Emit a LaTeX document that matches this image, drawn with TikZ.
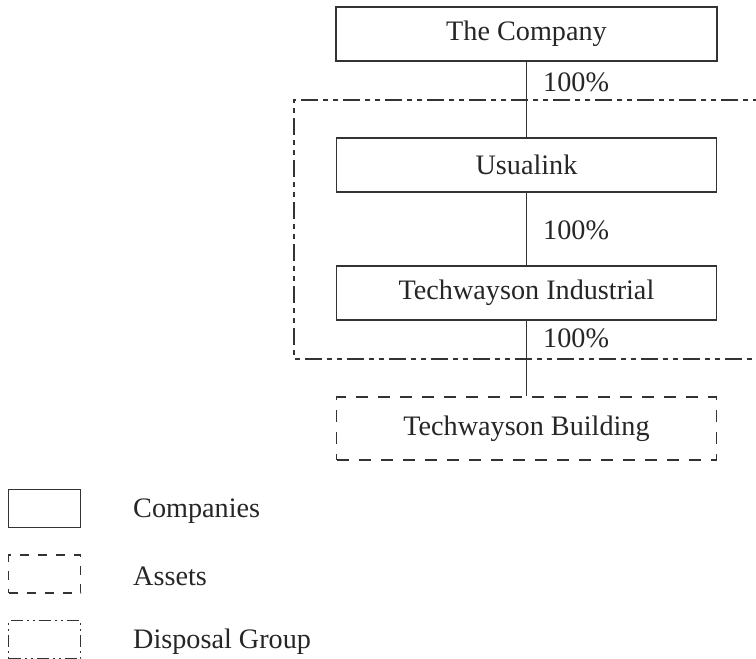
\documentclass[tikz,border=0pt]{standalone}
\usepackage{fontspec}
\setmainfont{Liberation Serif}
\begin{document}
\begin{tikzpicture}[x=1pt,y=-1pt,
  ink/.style={draw=black!80, line width=1.4pt},
  company/.style={ink, rectangle, inner sep=0pt, font=\fontsize{28.2}{30}\selectfont, text=black!85},
  asset/.style={company, dash pattern=on 12pt off 10pt},
  disposal/.style={ink, dash pattern=on 17pt off 5pt on 5pt off 5pt on 5pt off 5pt},
  pct/.style={anchor=base west, inner sep=0pt, font=\fontsize{28.2}{30}\selectfont, text=black!85},
  legtext/.style={anchor=base west, inner sep=0pt, font=\fontsize{28.2}{30}\selectfont, text=black!85},
  link/.style={draw=black!80, line width=1.2pt}]
\useasboundingbox (0,0) rectangle (756,659);
\clip (0,0) rectangle (756,659);

% disposal group frame (runs past the right edge)
\draw[disposal] (780,100) -- (294,100) -- (294,359) -- (780,359);

% ownership chain
\node[company, minimum width=381pt, minimum height=54pt] (co) at (526.5,34) {The Company};
\node[company, minimum width=380pt, minimum height=54pt] (usu) at (526.5,165) {Usualink};
\node[company, minimum width=380pt, minimum height=54pt] (ind) at (526.5,293) {Techwayson Industrial};
\node[asset, minimum width=380pt, minimum height=63pt] (bld) at (526.5,428.5) {Techwayson Building};

\draw[link] (co.south) -- (usu.north);
\draw[link] (usu.south) -- (ind.north);
\draw[link] (ind.south) -- (bld.north);

\node[pct] (p1) at (543,91) {100\%};
\node[pct] (p2) at (543,239) {100\%};
\node[pct] (p3) at (543,347) {100\%};

% legend
\node[company, minimum width=72pt, minimum height=38pt] (lc) at (44.5,508.5) {};
\node[asset, minimum width=72pt, minimum height=38pt, dash pattern=on 9pt off 9pt] (la) at (44.5,574) {};
\node[ink, rectangle, inner sep=0pt, minimum width=72pt, minimum height=38pt,
      dash pattern=on 12pt off 4pt on 2pt off 4pt on 2pt off 4pt] (ld) at (44.5,639.5) {};
\node[legtext] (tc) at (133,517) {Companies};
\node[legtext] (ta) at (133,585) {Assets};
\node[legtext] (td) at (133,648) {Disposal Group};
\end{tikzpicture}
\end{document}
